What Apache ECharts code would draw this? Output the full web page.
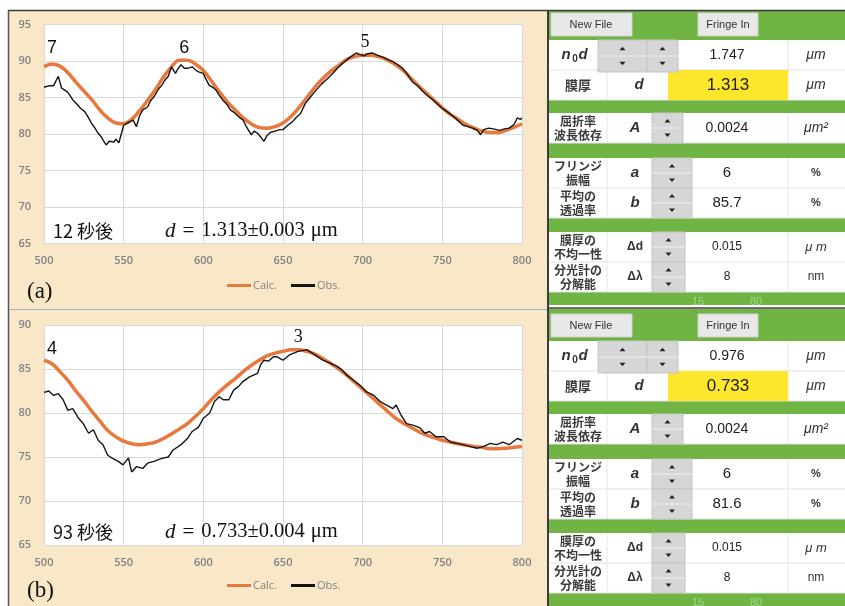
<!DOCTYPE html>
<html>
<head>
<meta charset="utf-8">
<script src="https://cdn.jsdelivr.net/npm/echarts@6.0.0/dist/echarts.min.js"></script>
<style>
  html, body { margin: 0; padding: 0; background: #ffffff; }
  #chart { width: 845px; height: 606px; }
</style>
</head>
<body>
<div id="chart"></div>
<script>
// ---- spectra: wavelength (nm) vs transmittance (%) ----
const wavelengths = [500, 505, 510, 515, 520, 525, 530, 535, 540, 545, 550, 555, 560, 565, 570, 575,
                     580, 585, 590, 595, 600, 605, 610, 615, 620, 625, 630, 635, 640, 645, 650,
                     655, 660, 665, 670, 675, 680, 685, 690, 695, 700, 705, 710, 715, 720, 725,
                     730, 735, 740, 745, 750, 755, 760, 765, 770, 775, 780, 785, 790, 795, 800];

// (a) 12 s: calculated fringe curve
const calcA = [89.2, 89.6, 89.3, 88.4, 87.1, 85.9, 84.7, 83.3, 82.2, 81.5, 81.4, 82.0, 83.2, 84.6, 86.1, 87.8,
               89.2, 90.1, 90.1, 89.6, 88.7, 87.3, 85.8, 84.4, 83.3, 82.2, 81.4, 80.9, 80.8, 81.0, 81.5,
               82.4, 83.6, 85.0, 86.4, 87.6, 88.6, 89.4, 90.2, 90.6, 90.8, 90.8, 90.6, 90.2, 89.6, 88.8,
               87.7, 86.6, 85.6, 84.6, 83.6, 82.7, 82.0, 81.3, 80.8, 80.4, 80.2, 80.2, 80.5, 80.9, 81.4];

// (a) 12 s: measured spectrum [nm, %]
const obsA = [[500,86.4],[503,86.6],[506,86.6],[508,87.5],[509,87.9],[511,86.3],[513,86.0],[515,85.7],[518,84.7],[521,84.0],
  [523,83.5],[525.5,83.1],[528,82.2],[530,81.4],[532,80.8],[534,80.1],[536,79.6],[537,79.2],[539,78.5],[541,79.0],
  [542,79.2],[544,78.9],[545,79.3],[547,78.8],[548,78.6],[550,81.2],[553,81.6],[556,81.9],[558,81.0],[560,82.5],
  [562,83.3],[565,83.7],[567,84.6],[569,85.1],[572,86.2],[574,86.7],[576,87.4],[578,87.9],[580,89.2],[582.5,88.3],
  [584,88.9],[586,89.5],[588,89.0],[590,89.0],[593,89.2],[595,88.8],[597,88.5],[600,88.3],[601,87.8],[603.6,86.7],
  [606,86.4],[608,86.0],[610,85.3],[612,84.7],[615,84.0],[617,83.3],[619,83.0],[621,82.6],[623,82.2],[625,81.9],
  [627,81.0],[630,79.9],[632,80.4],[634,80.1],[636,79.6],[638,79.0],[640,79.8],[642,80.2],[645,80.4],[648,80.6],
  [650,80.6],[653,81.2],[656,81.7],[658,82.2],[661,82.8],[664,84.2],[667,85.0],[670,85.8],[674,86.8],[679,87.8],
  [682,88.5],[685,89.2],[688,89.8],[692,90.5],[694,90.8],[696,91.1],[698,90.9],[701,90.7],[703,91.0],[706,91.1],
  [709,90.8],[713,90.5],[716,90.2],[719,89.9],[722,89.5],[725,89.0],[728,88.2],[731,87.2],[735,86.5],[738,85.8],
  [741,85.2],[744,84.7],[747,84.1],[750,83.5],[754,82.9],[757,82.4],[760,81.8],[763,81.2],[766,81.0],[769,80.8],
  [772,80.5],[774,79.9],[776,80.6],[779,80.8],[782,80.7],[786,80.5],[789,80.7],[792,80.8],[795,81.3],[797,82.2],
  [799,82.0],[800,82.2]];

// (b) 93 s: calculated fringe curve
const calcB = [86.0, 85.6, 84.7, 83.7, 82.5, 81.4, 80.2, 79.1, 78.0, 77.3, 76.8, 76.5, 76.4, 76.5, 76.7, 77.1,
               77.6, 78.2, 78.8, 79.6, 80.5, 81.5, 82.4, 83.2, 83.9, 84.7, 85.4, 86.0, 86.5, 86.8, 87.0,
               87.2, 87.2, 87.0, 86.7, 86.2, 85.6, 85.0, 84.3, 83.5, 82.7, 81.9, 81.1, 80.3, 79.5, 78.9,
               78.4, 77.9, 77.5, 77.2, 76.9, 76.7, 76.5, 76.35, 76.2, 76.1, 75.95, 75.95, 76.0, 76.1, 76.2];

// (b) 93 s: measured spectrum [nm, %]
const obsB = [[500,82.35],[503,82.5],[506,82.0],[509,82.2],[512,81.5],[515,80.3],[518,80.5],[521.7,79.4],[524.6,78.8],[528,77.7],
  [531,78.1],[534,76.9],[537,76.4],[540,75.2],[543,74.85],[546.6,74.5],[549.6,74.1],[553,74.9],[555,73.3],[558,73.9],
  [562,73.7],[565,74.3],[569,74.5],[574,74.85],[578,75.0],[581,75.8],[586,76.4],[590,77.1],[593,77.9],[597,78.4],
  [600,79.4],[604,80.0],[607,81.3],[610,81.85],[612.5,81.5],[616,81.5],[619,82.6],[622,83.0],[625,83.6],[629,84.1],
  [634,84.5],[636,85.5],[638,86.0],[641,85.9],[644,86.4],[646,86.4],[650,86.0],[654,86.6],[659.5,87.0],[665,87.2],
  [670,86.6],[675,86.0],[680,85.65],[684,85.3],[687,84.9],[690,84.3],[694,83.75],[698,83.2],[702.5,82.4],[707,82.0],
  [711,81.3],[715,80.9],[719,80.5],[721,80.9],[724,79.8],[727.5,78.8],[732,78.6],[736,78.3],[739,77.7],[742,77.9],
  [746,77.3],[751,77.3],[755,76.7],[759,76.55],[763,76.4],[767,76.2],[772,76.0],[776,76.2],[780,76.55],[784,76.4],
  [788,76.7],[792,76.4],[797,77.1],[800,76.9]];

// fringe orders marked on the calculated curves [nm, %, order]
const ordersA = [[505, 89.6, '7'], [588, 90.2, '6'], [701.5, 90.8, '5']];
const ordersB = [[505, 85.6, '4'], [659.5, 87.2, '3']];

// annotation texts
const captionsA = ['12 秒後', '1.313±0.003', '(a)'];
const captionsB = ['93 秒後', '0.733±0.004', '(b)'];

// fitting-panel values: n0d, d, A, a, b, Δd, Δλ
const panelValuesA = ['1.747', '1.313', '0.0024', '6', '85.7', '0.015', '8'];
const panelValuesB = ['0.976', '0.733', '0.0024', '6', '81.6', '0.015', '8'];
const rowLabels = ['', '膜厚', '屈折率\n波長依存', 'フリンジ\n振幅', '平均の\n透過率', '膜厚の\n不均一性', '分光計の\n分解能'];
const rowSymbols = ['', 'd', 'A', 'a', 'b', 'Δd', 'Δλ'];
const rowUnits = ['μm', 'μm', 'μm²', '%', '%', 'μ m', 'nm'];
const sliderTicks = ['15', '80'];

// ---- styling ----
const ORANGE = '#e8783c';
const BLACK = '#141414';
const BEIGE = '#f9e8c8';
const GREEN = '#70b544';
const YELLOW = '#fde62c';
const SPIN = '#d6d6d6';
const AXIS_TXT = '#828282';
const SANS = '"Liberation Sans", Arial, sans-serif';
const JP = '"Noto Sans CJK JP", sans-serif';
const SERIF = '"Liberation Serif", "DejaVu Serif", serif';

const pair = (xs, ys) => xs.map((x, i) => [x, ys[i]]);

function rect(x, y, w, h, fill, stroke, z) {
  return { type: 'rect', shape: { x, y, width: w, height: h },
    style: { fill, stroke: stroke || null, lineWidth: stroke ? 1 : 0 }, z: z == null ? 1 : z, silent: true };
}
function line(x1, y1, x2, y2, color, w, z) {
  return { type: 'line', shape: { x1, y1, x2, y2 }, style: { stroke: color, lineWidth: w }, z: z == null ? 5 : z, silent: true };
}
function text(x, y, str, font, color, align, extra) {
  return { type: 'text', x, y, z: 20, silent: true,
    style: Object.assign({ text: str, font, fill: color, align: align || 'center', verticalAlign: 'middle' }, extra || {}) };
}
function tri(cx, cy, up) {
  const pts = up ? [[cx - 3, cy + 1.5], [cx + 3, cy + 1.5], [cx, cy - 2]] : [[cx - 3, cy - 1.5], [cx + 3, cy - 1.5], [cx, cy + 2]];
  return { type: 'polygon', shape: { points: pts }, style: { fill: '#222' }, z: 12, silent: true };
}
function spinner(x, y, w, h) {
  return [rect(x, y, w, h, SPIN, '#c4c4c4', 10), line(x, y + h / 2, x + w, y + h / 2, '#efefef', 1, 11),
          tri(x + w / 2, y + h * 0.27, true), tri(x + w / 2, y + h * 0.73, false)];
}

// control panel beside each chart
function buildPanel(y0, gTop, gBot, vals) {
  const els = [];
  const X0 = 549, X1 = 845, RH = 30;
  els.push(rect(X0, gTop, X1 - X0, gBot - gTop, GREEN, null, 2));
  els.push(rect(551, y0 + 3, 81, 23, '#e8e8e8', '#d0d0d0', 8));
  els.push(text(591, y0 + 14.5, 'New File', '11px ' + SANS, '#333'));
  els.push(rect(698, y0 + 3, 60, 23, '#e8e8e8', '#d0d0d0', 8));
  els.push(text(728, y0 + 14.5, 'Fringe In', '11px ' + SANS, '#333'));

  const rowY = [30, 60, 103, 148, 178, 222, 252];
  rowY.forEach((ry, i) => {
    const y = y0 + ry;
    els.push(rect(X0, y, X1 - X0, RH, '#ffffff', null, 4));
    els.push(line(X0, y + RH, X1, y + RH, '#e2e2e2', 1, 6));
    els.push(line(788, y, 788, y + RH, '#e6e6e6', 1, 6));
    if (i === 0) {
      els.push(...spinner(598, y, 49, RH + 2));
      els.push(...spinner(647, y, 31, RH + 2));
      els.push(text(566, y + 15, 'n', 'italic bold 15px ' + SANS, '#333'));
      els.push(text(575, y + 19, '0', 'bold 10px ' + SANS, '#333'));
      els.push(text(583, y + 15, 'd', 'italic bold 15px ' + SANS, '#333'));
      els.push(text(727, y + 15, vals[0], '14px ' + SANS, '#222'));
    } else if (i === 1) {
      els.push(line(607, y, 607, y + RH, '#e6e6e6', 1, 6));
      els.push(rect(668, y, 120, RH, YELLOW, null, 7));
      els.push(text(578, y + 15, rowLabels[1], 'bold 13px ' + JP, '#3a3a3a'));
      els.push(text(639, y + 15, 'd', 'italic bold 15px ' + SANS, '#333'));
      els.push(text(728, y + 15, vals[1], '17px ' + SANS, '#222'));
    } else {
      const sw = i === 2 ? 31 : (i <= 4 ? 40 : 33);
      els.push(line(607, y, 607, y + RH, '#e6e6e6', 1, 6));
      els.push(...spinner(652, y, sw, RH));
      els.push(text(578, y + 15, rowLabels[i], 'bold 12px ' + JP, '#3a3a3a', 'center', { lineHeight: 14 }));
      const small = i >= 5;
      const symFont = (small ? 'bold 12px ' : 'italic bold 15px ') + SANS;
      els.push(text(635, y + 15, rowSymbols[i], symFont, '#333'));
      const vf = i === 2 ? '14px ' : (small ? '12px ' : '15px ');
      els.push(text(727, y + 15, vals[i], vf + SANS, '#222'));
    }
    const uf = (i <= 2 ? 'italic 14px ' : (i <= 4 ? 'bold 11px ' : (i === 5 ? 'italic 13px ' : '12px '))) + SANS;
    els.push(text(816, y + 15, rowUnits[i], uf, '#333'));
  });
  els.push(text(698, y0 + 292, sliderTicks[0], '11px ' + SANS, '#a3d487'));
  els.push(text(756, y0 + 292, sliderTicks[1], '11px ' + SANS, '#a3d487'));
  return els;
}

function captions(c, yMid, yTag) {
  return [
    text(53, yMid, c[0], '18px ' + JP, '#111', 'left'),
    { type: 'text', x: 165, y: yMid, z: 20, silent: true,
      style: { text: '{i|d}{e|=}{n|' + c[1] + '}{u|μm}', align: 'left', verticalAlign: 'middle',
        font: '20px ' + SERIF, fill: '#111',
        rich: {
          i: { fontStyle: 'italic', fontSize: 21, fontFamily: SERIF, fill: '#111' },
          e: { fontSize: 21, fontFamily: SERIF, fill: '#111', padding: [0, 7, 0, 7] },
          n: { fontSize: 20.5, fontFamily: SERIF, fill: '#111' },
          u: { fontSize: 20.5, fontFamily: SERIF, fill: '#111', padding: [0, 0, 0, 6] }
        } } },
    text(27, yTag, c[2], '23px ' + SERIF, '#111', 'left')
  ];
}

const frame = [
  rect(9, 11, 538, 297, BEIGE, null, -10),
  rect(9, 311, 538, 295, BEIGE, null, -10),
  line(8, 10.5, 845, 10.5, '#3c3c3c', 1.5, 30),
  line(8.5, 10, 8.5, 606, '#555', 1.5, 30),
  line(548, 10, 548, 606, '#3c3c3c', 2, 30),
  line(9, 309.5, 547, 309.5, '#b9ad96', 1.5, 30),
  line(548, 308, 845, 308, '#3c3c3c', 1.5, 30)
];

const graphics = [].concat(frame,
  buildPanel(10, 11, 305, panelValuesA),
  buildPanel(311, 309, 606, panelValuesB),
  captions(captionsA, 231, 292),
  captions(captionsB, 532, 591));

function xAx(gi) {
  return { gridIndex: gi, type: 'value', min: 500, max: 800, interval: 50,
    axisLine: { show: false }, axisTick: { show: false },
    axisLabel: { color: AXIS_TXT, fontSize: 11, margin: 12, fontWeight: 600, fontFamily: '"Open Sans", sans-serif' },
    splitLine: { lineStyle: { color: '#d9d9d9', width: 1 } } };
}
function yAx(gi, min, max) {
  return { gridIndex: gi, type: 'value', min, max, interval: 5,
    axisLine: { show: false }, axisTick: { show: false },
    axisLabel: { color: AXIS_TXT, fontSize: 11, margin: 13, fontWeight: 600, fontFamily: '"Open Sans", sans-serif' },
    splitLine: { lineStyle: { color: '#d9d9d9', width: 1 } } };
}
function orderMarks(list, dists, serifIdx) {
  return { symbol: 'circle', symbolSize: 2, itemStyle: { color: 'rgba(0,0,0,0)' },
    data: list.map((o, i) => ({ name: o[2], coord: [o[0], o[1]],
      label: { show: true, position: 'top', distance: dists[i], formatter: '{b}', color: '#111', fontSize: 18,
        fontFamily: serifIdx.includes(i) ? SERIF : SANS } })) };
}
function legendAt(top) {
  return { top, left: 222, itemWidth: 24, itemHeight: 3, itemGap: 14,
    textStyle: { color: AXIS_TXT, fontSize: 11, fontFamily: '"Open Sans", sans-serif', padding: [0, 0, 0, -3] },
    data: [{ name: 'Calc.', icon: 'rect' }, { name: 'Obs.', icon: 'rect' }], selectedMode: false };
}

const chart = echarts.init(document.getElementById('chart'), null, { renderer: 'canvas' });
chart.setOption({
  animation: false,
  backgroundColor: '#ffffff',
  grid: [
    { left: 44, top: 24.5, width: 478, height: 219, show: true, backgroundColor: '#ffffff', borderWidth: 0, z: 0 },
    { left: 44, top: 325, width: 478, height: 220, show: true, backgroundColor: '#ffffff', borderWidth: 0, z: 0 }
  ],
  xAxis: [xAx(0), xAx(1)],
  yAxis: [yAx(0, 65, 95), yAx(1, 65, 90)],
  legend: [legendAt(275), legendAt(575)],
  series: [
    { name: 'Calc.', type: 'line', xAxisIndex: 0, yAxisIndex: 0, data: pair(wavelengths, calcA),
      smooth: 0.4, showSymbol: false, lineStyle: { width: 3.5, color: ORANGE }, itemStyle: { color: ORANGE }, z: 2,
      markPoint: orderMarks(ordersA, [6, 2, 3], [2]) },
    { name: 'Obs.', type: 'line', xAxisIndex: 0, yAxisIndex: 0, data: obsA,
      showSymbol: false, lineStyle: { width: 1.4, color: BLACK }, itemStyle: { color: BLACK }, z: 3 },
    { name: 'Calc.', type: 'line', xAxisIndex: 1, yAxisIndex: 1, data: pair(wavelengths, calcB),
      smooth: 0.4, showSymbol: false, lineStyle: { width: 3.5, color: ORANGE }, itemStyle: { color: ORANGE }, z: 2,
      markPoint: orderMarks(ordersB, [5, 2], [1]) },
    { name: 'Obs.', type: 'line', xAxisIndex: 1, yAxisIndex: 1, data: obsB,
      showSymbol: false, lineStyle: { width: 1.4, color: BLACK }, itemStyle: { color: BLACK }, z: 3 }
  ],
  graphic: { elements: graphics }
});
</script>
</body>
</html>
